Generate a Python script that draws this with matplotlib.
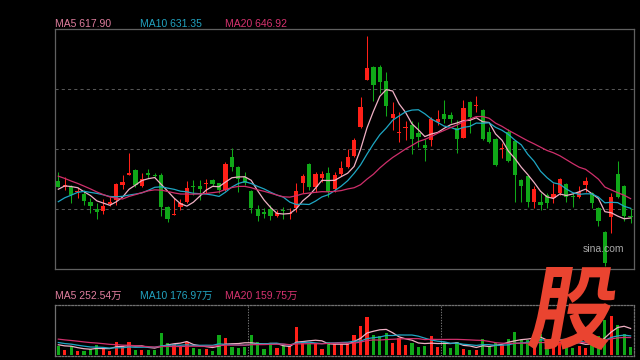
import numpy as np
import pandas as pd
import matplotlib
matplotlib.use('Agg')
import matplotlib.pyplot as plt
from matplotlib.textpath import TextPath
from matplotlib.font_manager import FontProperties
from matplotlib.patches import PathPatch
from matplotlib.transforms import Affine2D

# daily K line, oldest first (red = up, green = down)
opens = [671.6, 662.5, 662.9, 654.8, 651.8, 640.0, 628.9, 626.3, 636.5, 642.6,
         665.5, 681.2, 688.4, 664.4, 684.3, 680.8, 680.8, 632.4, 620.2, 632.4,
         640.0, 662.9, 664.0, 667.0, 673.1, 668.1, 657.9, 707.8, 693.5, 678.2,
         656.3, 628.9, 624.7, 628.9, 618.6, 627.3, 621.2, 630.4, 669.0, 697.6,
         662.0, 676.7, 684.3, 659.4, 682.3, 693.5, 709.0, 754.1, 825.8, 846.1,
         846.1, 824.3, 767.8, 744.9, 752.5, 757.1, 744.9, 726.6, 734.2, 762.2,
         773.9, 772.4, 752.1, 737.7, 792.5, 785.7, 780.0, 746.9, 735.7, 720.0,
         746.9, 732.7, 673.1, 679.2, 640.0, 640.0, 650.2, 645.2, 652.8, 667.0,
         647.6, 646.7, 665.5, 653.7, 630.8, 594.2, 617.1, 682.3, 664.0, 618.2]
highs = [685.4, 678.2, 665.5, 662.9, 657.9, 645.7, 638.0, 644.1, 647.2, 669.0,
         680.8, 713.9, 689.9, 683.4, 689.5, 684.3, 683.4, 633.4, 646.1, 644.1,
         672.1, 673.1, 673.1, 674.2, 674.2, 669.0, 701.1, 721.5, 694.5, 685.8,
         657.9, 635.0, 629.9, 635.0, 627.3, 632.4, 629.9, 669.0, 682.3, 698.6,
         685.8, 686.9, 693.5, 685.8, 702.6, 720.5, 736.8, 800.3, 893.5, 847.2,
         848.7, 837.6, 791.8, 777.4, 763.7, 763.7, 762.2, 735.7, 769.3, 779.3,
         795.3, 777.4, 764.3, 795.3, 793.8, 801.9, 781.6, 754.5, 736.8, 729.2,
         750.6, 734.2, 674.7, 680.8, 664.0, 652.8, 652.8, 669.0, 675.7, 668.1,
         653.7, 664.0, 677.3, 655.3, 632.4, 595.7, 653.7, 702.2, 665.5, 630.8]
lows = [662.5, 657.9, 638.0, 645.7, 635.0, 623.2, 613.1, 621.2, 633.4, 635.0,
        659.4, 680.0, 662.9, 662.9, 675.7, 678.2, 618.2, 609.5, 619.2, 627.3,
        638.0, 650.2, 642.6, 652.8, 664.0, 653.7, 656.8, 687.3, 655.3, 665.5,
        622.3, 611.0, 614.7, 612.1, 616.2, 613.1, 613.1, 624.7, 652.8, 657.9,
        655.3, 670.5, 646.7, 655.3, 679.2, 691.5, 708.3, 752.1, 825.1, 794.2,
        806.0, 770.4, 749.9, 730.7, 734.7, 712.8, 723.1, 702.6, 724.3, 756.4,
        760.2, 760.2, 714.4, 736.8, 744.9, 777.0, 734.2, 729.2, 694.5, 706.3,
        700.6, 640.0, 640.0, 632.4, 629.9, 627.3, 629.9, 638.5, 650.2, 640.0,
        631.5, 645.2, 655.3, 630.8, 603.4, 541.8, 592.7, 646.1, 611.0, 607.9]
closes = [662.9, 665.5, 650.2, 656.3, 641.1, 633.9, 624.7, 633.4, 639.5, 667.0,
          670.5, 684.3, 665.5, 674.2, 681.2, 679.2, 632.4, 613.6, 621.2, 638.0,
          660.9, 662.1, 659.4, 668.1, 666.6, 657.9, 697.6, 692.5, 674.2, 668.1,
          630.8, 618.2, 621.2, 618.2, 622.3, 625.8, 622.3, 656.3, 679.2, 662.9,
          682.3, 682.3, 654.8, 680.8, 691.0, 708.3, 734.2, 784.6, 844.2, 818.2,
          823.2, 785.4, 773.9, 746.0, 753.6, 735.7, 739.3, 722.5, 765.8, 765.5,
          766.7, 766.7, 736.2, 783.1, 768.6, 786.1, 736.2, 730.7, 696.0, 720.5,
          702.2, 680.8, 664.0, 640.0, 659.4, 635.0, 638.5, 651.8, 674.2, 647.6,
          646.7, 655.3, 672.1, 638.5, 611.0, 546.9, 646.7, 646.7, 618.2, 617.1]
# volume in 万
volumes = [70, 42, 70, 34, 34, 48, 78, 62, 34, 109,
           70, 109, 42, 42, 42, 42, 185, 101, 92, 70,
           109, 59, 50, 50, 34, 168, 143, 67, 59, 67,
           168, 109, 50, 84, 59, 76, 76, 235, 109, 92,
           101, 50, 109, 92, 92, 98, 168, 244, 319, 168,
           160, 185, 101, 143, 84, 101, 67, 76, 160, 67,
           109, 59, 109, 50, 42, 42, 134, 76, 101, 84,
           134, 193, 126, 126, 126, 176, 67, 126, 109, 134,
           59, 76, 59, 126, 160, 294, 328, 252, 176, 67]

# sessions before the visible window, only needed to start the moving averages
prev_closes = [735, 730, 728, 724, 720, 718, 714, 710, 706, 695,
               606, 610, 614, 625, 650, 640, 655, 665, 672]
prev_volumes = [170, 175, 150, 165, 160, 155, 170, 150, 160, 155,
                130, 120, 125, 115, 120, 90, 85, 95, 80]

ma_periods = [5, 10, 20]
ma_labels = ['MA5 617.90', 'MA10 631.35', 'MA20 646.92']
vol_labels = ['MA5 252.54万', 'MA10 176.97万', 'MA20 159.75万']
line_colors = ['#f0b0c4', '#1ea7c4', '#cf2f6b']
text_colors = ['#e07e9e', '#22a3c0', '#d7336f']

RED = '#ff2018'
GREEN = '#10a818'
BG = 'black'

plt.rcParams['font.family'] = ['Liberation Sans', 'Noto Sans CJK SC', 'DejaVu Sans']

n = len(closes)
x = np.arange(n)
o = np.array(opens)
c = np.array(closes)
up = c >= o
cols = np.where(up, RED, GREEN)

all_c = pd.Series(prev_closes + closes)
all_v = pd.Series(prev_volumes + volumes)
npre = len(prev_closes)

fig = plt.figure(figsize=(6.4, 3.6), dpi=100, facecolor=BG)
ax = fig.add_axes([54.5 / 640, 91 / 360, 579.5 / 640, 240 / 360], facecolor=BG)
axv = fig.add_axes([54.5 / 640, 4.5 / 360, 579.5 / 640, 50.5 / 360], facecolor=BG)

# price panel
ylo, yhi = 537.2, 903.7
for k in range(1, 4):
    ax.axhline(ylo + (yhi - ylo) * k / 4, color='#555555', lw=0.75,
               linestyle=(0, (3, 3)), zorder=1)
ax.vlines(x, lows, highs, colors=cols, lw=0.75, zorder=2)
body = np.maximum(np.abs(c - o), 1.3)
ax.bar(x, body, bottom=np.minimum(o, c), width=0.66, color=cols, lw=0, zorder=3)
for p, col in zip(ma_periods, line_colors):
    ma = all_c.rolling(p).mean().values[npre:]
    ax.plot(x, ma, color=col, lw=0.9, zorder=4)
ax.set_xlim(-0.59, 89.53)
ax.set_ylim(ylo, yhi)
ax.set_xticks([])
ax.set_yticks([])
for s in ax.spines.values():
    s.set_color('#606060')
    s.set_linewidth(0.9)

# volume panel
axv.bar(x, volumes, width=0.5, color=cols, lw=0, zorder=2)
for p, col in zip(ma_periods, line_colors):
    ma = all_v.rolling(p).mean().values[npre:]
    axv.plot(x, ma, color=col, lw=0.9, zorder=3)
for xv in [29.5, 59.5]:
    axv.axvline(xv, color='#707070', lw=0.75, linestyle=(0, (1.3, 1.3)), zorder=1)
axv.set_xlim(-0.59, 89.53)
axv.set_ylim(-8, 424)
axv.set_xticks([])
axv.set_yticks([])
for name, s in axv.spines.items():
    s.set_color('#707070')
    s.set_linewidth(0.9)
    if name != 'left':
        s.set_linestyle((0, (1.3, 1.3)))

# legends above the panels
for xp, lab, col in zip([55, 140, 225], ma_labels, text_colors):
    fig.text(xp / 640, 1 - 24 / 360, lab, color=col, fontsize=7.5, va='center')
for xp, lab, col in zip([55, 140, 225], vol_labels, text_colors):
    fig.text(xp / 640, 1 - 296 / 360, lab, color=col, fontsize=7.5, va='center')

fig.text(603 / 640, 1 - 249 / 360, 'sina.com', color='#a8a8a8', fontsize=7.5,
         ha='center', va='center')

# red 股 badge, leaning right
fp = FontProperties(family='Noto Sans CJK SC', weight='bold')
tp = TextPath((0, 0), '股', size=100, prop=fp)
ext = tp.get_extents()
gh, gw = 83.0, 80.0
tr = (Affine2D().translate(-ext.x0, -ext.y0)
      .scale(gw / ext.width, gh / ext.height)
      .skew_deg(10, 0)
      .translate(527, 360 - 350))
badge = PathPatch(tp, transform=tr, facecolor='#ea4430', edgecolor='none', zorder=10)
fig.add_artist(badge)

fig.savefig('out.png', dpi=100, facecolor=BG)
